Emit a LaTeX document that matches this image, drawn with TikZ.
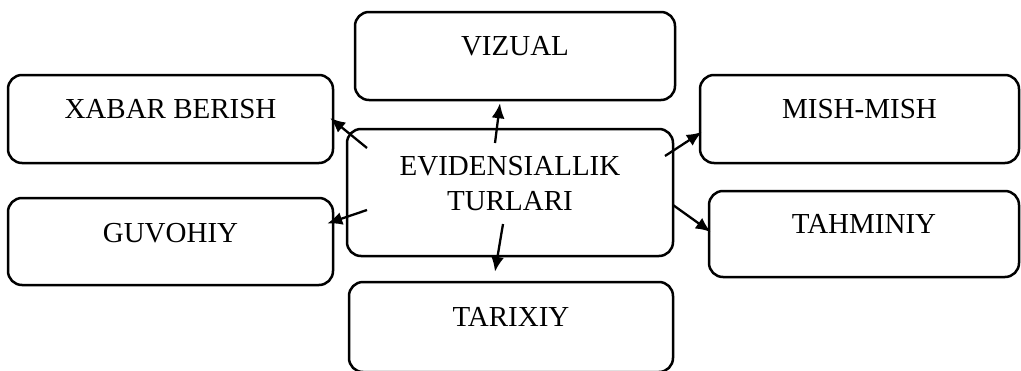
\documentclass[tikz,border=0pt]{standalone}
\usepackage{fontspec}
\setmainfont{Liberation Serif}
\usetikzlibrary{positioning,arrows.meta}

\begin{document}
\begin{tikzpicture}[x = 1pt, y = -1pt, > = {Latex[length=15pt, width=13pt]},
box/.style={ rectangle, draw, line width = 2.5pt, rounded corners = 14pt, inner sep = 0pt, align = center, text height = 43pt, text depth = 45pt },
link/.style={ ->, line width = 2.3pt }
]
\useasboundingbox[fill = white] (0,0) rectangle (1021,370);
\fontsize{29}{35}\selectfont
%the boxes
\node (ev) at (510,192.5) [box, minimum width = 326pt, minimum height = 127pt, text height = 81pt, text depth = 46pt] {EVIDENSIALLIK\\TURLARI};
\node (vizual) at (515,56) [box, minimum width = 320pt, minimum height = 88pt] {VIZUAL};
\node (xabar) at (170.5,119) [box, minimum width = 325pt, minimum height = 88pt] {XABAR BERISH};
\node (guvohiy) at (170.5,241.5) [box, minimum width = 325pt, minimum height = 87pt, text height = 44pt, text depth = 43pt] {GUVOHIY};
\node (mish) at (859.5,119) [box, minimum width = 319pt, minimum height = 88pt] {MISH-MISH};
\node (tahminiy) at (864,234) [box, minimum width = 310pt, minimum height = 86pt, text height = 42pt, text depth = 44pt] {TAHMINIY};
\node (tarixiy) at (511,327) [box, minimum width = 324pt, minimum height = 90pt, text height = 44pt, text depth = 46pt] {TARIXIY};

%start points inside the middle box
\coordinate (s1) at (495,143);
\coordinate (s2) at (367,148);
\coordinate (s3) at (367,210);
\coordinate (s4) at (665,156);
\coordinate (s5) at (673,205);
\coordinate (s6) at (503,224);

%arrows
\draw [link] (s1) to ([xshift=-15pt, yshift=-2pt]vizual.south);
\draw [link] (s2) to ([xshift=-4pt, yshift=1pt]xabar.east);
\draw [link] (s3) to ([xshift=-7pt, yshift=18pt]guvohiy.east);
\draw [link] (s4) to ([xshift=3pt, yshift=-13pt]mish.west);
\draw [link] (s5) to ([xshift=3pt, yshift=2pt]tahminiy.west);
\draw [link] (s6) to ([xshift=-16pt, yshift=9pt]tarixiy.north);
\end{tikzpicture}
\end{document}
